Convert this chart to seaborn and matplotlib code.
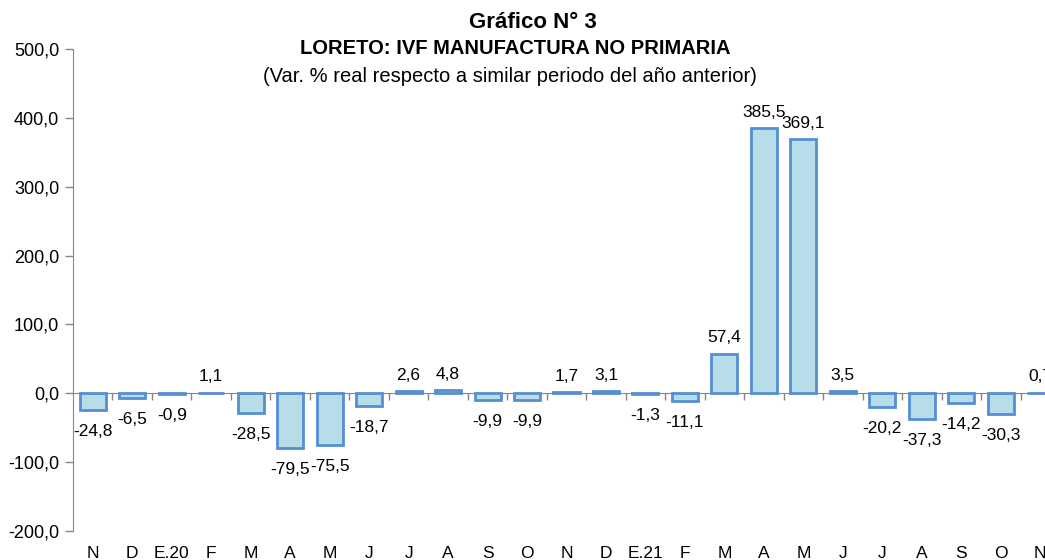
import matplotlib
matplotlib.use('Agg')
import matplotlib.pyplot as plt
import seaborn as sns
import pandas as pd
from matplotlib.ticker import FixedLocator, FuncFormatter

# Data
months = ['N', 'D', 'E.20', 'F', 'M', 'A', 'M', 'J', 'J', 'A', 'S', 'O',
          'N', 'D', 'E.21', 'F', 'M', 'A', 'M', 'J', 'J', 'A', 'S', 'O', 'N']
var_pct = [-24.8, -6.5, -0.9, 1.1, -28.5, -79.5, -75.5, -18.7, 2.6, 4.8, -9.9, -9.9,
           1.7, 3.1, -1.3, -11.1, 57.4, 385.5, 369.1, 3.5, -20.2, -37.3, -14.2, -30.3, 0.7]

df = pd.DataFrame({'pos': range(len(months)), 'var': var_pct})

sns.set_style('white')
plt.rcParams['font.family'] = ['Liberation Sans', 'DejaVu Sans']
plt.rcParams['text.color'] = 'black'
plt.rcParams['xtick.labelcolor'] = 'black'
plt.rcParams['ytick.labelcolor'] = 'black'

fig = plt.figure(figsize=(10.45, 5.6), dpi=100)
# axes run past the right edge, as in the reference
ax = fig.add_axes([73 / 1045, 29 / 560, 987 / 1045, 482 / 560])

sns.barplot(data=df, x='pos', y='var', color='#B7DEE8', edgecolor='#558ED5',
            linewidth=2, width=0.66, saturation=1, ax=ax)

ax.set_ylim(-200, 500)
ax.set_xlim(-0.5, len(months) - 0.5)
ax.set_xlabel('')
ax.set_ylabel('')

fmt = lambda v: f'{v:.1f}'.replace('.', ',')
ax.yaxis.set_major_locator(FixedLocator(range(-200, 501, 100)))
ax.yaxis.set_major_formatter(FuncFormatter(lambda v, p: fmt(v)))
ax.tick_params(axis='y', direction='out', length=6, width=1, color='#868686',
               labelsize=13, pad=4, left=True)

# zero line as bottom spine; labels pushed down to bottom
for s in ['top', 'right']:
    ax.spines[s].set_visible(False)
ax.spines['left'].set_color('#868686')
ax.spines['bottom'].set_position(('data', 0))
ax.spines['bottom'].set_color('#868686')
ax.set_xticks(range(len(months)))
ax.set_xticklabels(months)
ax.tick_params(axis='x', which='major', length=0, labelsize=12.5, pad=110)
ax.set_xticks([i + 0.5 for i in range(len(months))], minor=True)
ax.tick_params(axis='x', which='minor', direction='out', length=5, width=1,
               color='#868686', bottom=True)

for i, v in enumerate(var_pct):
    if v >= 0:
        ax.annotate(fmt(v), (i, v), xytext=(0, 6), textcoords='offset points',
                    ha='center', va='bottom', fontsize=12.5)
    else:
        ax.annotate(fmt(v), (i, v), xytext=(0, -10), textcoords='offset points',
                    ha='center', va='top', fontsize=12.5)

fig.text(533 / 1045, 1 - 22 / 560, 'Gráfico N° 3', ha='center', va='center',
         fontsize=16, fontweight='bold')
fig.text(515 / 1045, 1 - 49 / 560, 'LORETO: IVF MANUFACTURA NO PRIMARIA',
         ha='center', va='center', fontsize=14.5, fontweight='bold')
fig.text(510 / 1045, 1 - 76 / 560,
         '(Var. % real respecto a similar periodo del año anterior)',
         ha='center', va='center', fontsize=14.5)

fig.savefig('out.png', dpi=100)
